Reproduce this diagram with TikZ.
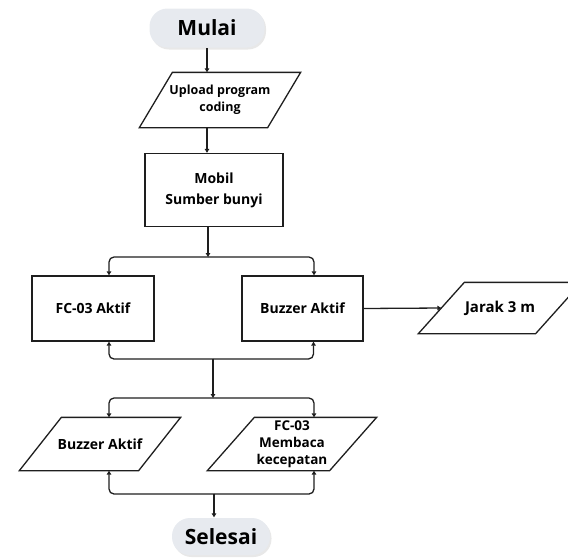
\documentclass[tikz,border=0pt]{standalone}
\usepackage{fontspec}
\setmainfont{Open Sans}
\usetikzlibrary{shadows,arrows.meta}
\definecolor{pill}{HTML}{E7EAEF}
\definecolor{ink}{HTML}{1E1E1E}

\begin{document}
\begin{tikzpicture}[x=1pt, y=-1pt, line width=1.3pt, draw=ink,
    >={Triangle[length=4pt,width=4.5pt]},
    terminal/.style={rectangle, rounded corners=18pt, fill=pill, draw=none,
      font=\bfseries\fontsize{21}{23}\selectfont,
      drop shadow={opacity=0.18, shadow xshift=1.5pt, shadow yshift=-2pt}},
    proc/.style={rectangle, draw=ink, align=center, font=\bfseries\fontsize{14}{21}\selectfont},
    io/.style={rectangle, align=center, inner sep=1pt, font=\bfseries\fontsize{12.5}{17}\selectfont},
    besar/.style={font=\bfseries\fontsize{14}{17}\selectfont},
    link/.style={->, draw=ink, rounded corners=5pt}]
  \useasboundingbox (0,0) rectangle (568,558);

  \node[terminal, minimum width=115pt, minimum height=39pt] (mulai) at (207,28) {Mulai};
  \node[io, minimum width=127pt, minimum height=54pt] (upload) at (220,100) {Upload program\\coding};
  \node[proc, minimum width=138pt, minimum height=73pt] (mobil) at (214,190) {Mobil\\Sumber bunyi};

  \node[proc, minimum width=122pt, minimum height=65pt] (fc) at (93,308.5) {FC-03 Aktif};
  \node[proc, minimum width=121pt, minimum height=65pt] (buzzer) at (302.5,308.5) {Buzzer Aktif};
  \node[io, font=\bfseries\fontsize{15}{17}\selectfont, minimum width=116pt, minimum height=50pt] (jarak) at (500,308) {Jarak 3 m};

  \node[io, besar, minimum width=118pt, minimum height=52pt] (buzzerdua) at (100,444) {Buzzer Aktif};
  \node[io, font=\bfseries\fontsize{13.5}{17}\selectfont, minimum width=121pt, minimum height=52pt] (baca) at (292,444) {FC-03\\Membaca\\kecepatan};
  \node[terminal, minimum width=98pt, minimum height=37pt] (selesai) at (221,536.5) {Selesai};

  % jajaran genjang input/output
  \foreach \n/\s in {upload/33,jarak/46,buzzerdua/42,baca/47}{
    \draw[ink] ([xshift=\s/2*1pt]\n.north west) -- ([xshift=\s/2*1pt]\n.north east)
      -- ([xshift=-\s/2*1pt]\n.south east) -- ([xshift=-\s/2*1pt]\n.south west) -- cycle;
  }

  % titik percabangan
  \coordinate (cabang1) at (208,257);
  \coordinate (gabung1) at (213,359);
  \coordinate (cabang2) at (213,398);
  \coordinate (gabung2) at (214,494);

  \draw[link] (mulai.south) -- (mulai.south |- upload.north);
  \draw[link] (mulai.south |- upload.south) -- (mulai.south |- mobil.north);
  \draw[link] (cabang1 |- mobil.south) -- (cabang1);
  \draw[link] (cabang1) -| ([xshift=16pt]fc.north);
  \draw[link] (cabang1) -| ([xshift=11.5pt]buzzer.north);
  \draw[link] (buzzer.east) -- (jarak.west);

  \draw[link] (gabung1) -| ([xshift=16pt]fc.south);
  \draw[link] (gabung1) -| ([xshift=11pt]buzzer.south);
  \draw[link] (gabung1) -- (cabang2);
  \draw[link] (cabang2) -| ([xshift=9pt]buzzerdua.north);
  \draw[link] (cabang2) -| ([xshift=22pt]baca.north);

  \draw[link] (gabung2) -| ([xshift=9pt]buzzerdua.south);
  \draw[link] (gabung2) -| ([xshift=22pt]baca.south);
  \draw[link] (gabung2) -- (gabung2 |- selesai.north);
\end{tikzpicture}
\end{document}
